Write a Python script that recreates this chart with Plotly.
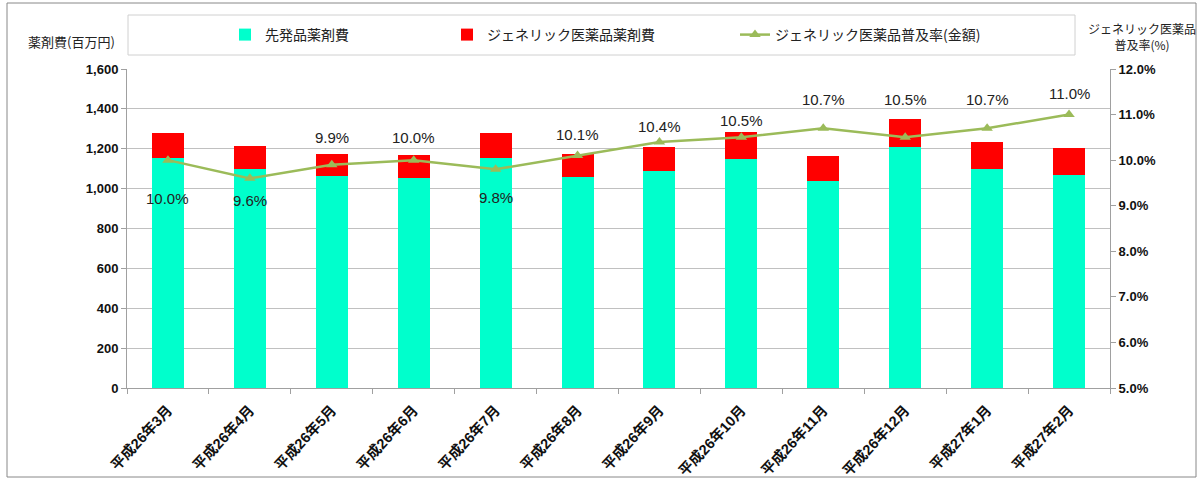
import plotly.graph_objects as go

# ---- data ----
months = ["平成26年3月", "平成26年4月", "平成26年5月", "平成26年6月", "平成26年7月", "平成26年8月",
          "平成26年9月", "平成26年10月", "平成26年11月", "平成26年12月", "平成27年1月", "平成27年2月"]
brand_cost = [1152, 1100, 1062, 1055, 1152, 1057, 1086, 1150, 1036, 1208, 1100, 1070]
generic_cost = [128, 116, 114, 115, 128, 115, 125, 136, 126, 143, 132, 132]
generic_rate = [10.0, 9.6, 9.9, 10.0, 9.8, 10.1, 10.4, 10.5, 10.7, 10.5, 10.7, 11.0]

# label offsets (px) as placed in the original chart
label_shift = [-38, -22, 27, 23, -28, 21, 15, 17, 29, 38, 29, 21]

TEAL = "#00FFCC"
RED = "#FF0000"
OLIVE = "#9BBB59"
NUM_FONT = "Arial, 'Liberation Sans', 'Noto Sans CJK JP', sans-serif"
JP_FONT = "'Noto Sans CJK JP', sans-serif"

W, H = 1199, 482
L, R, T, B = 127, 89, 69, 94
pw, ph = W - L - R, H - T - B


def px_x(x):
    return (x - L) / pw


def px_y(y):
    return (H - B - y) / ph


fig = go.Figure()

fig.add_trace(go.Bar(
    x=months, y=brand_cost, name="先発品薬剤費",
    marker=dict(color=TEAL, line=dict(width=0)),
    legend="legend", showlegend=True,
))
fig.add_trace(go.Bar(
    x=months, y=generic_cost, name="ジェネリック医薬品薬剤費",
    marker=dict(color=RED, line=dict(width=0)),
    legend="legend2", showlegend=True,
))
fig.add_trace(go.Scatter(
    x=months, y=generic_rate, name="ジェネリック医薬品普及率(金額)",
    mode="lines+markers", yaxis="y2",
    line=dict(color=OLIVE, width=2.5),
    marker=dict(symbol="triangle-up", size=10, color=OLIVE),
    legend="legend3", showlegend=True,
))

# data labels for the rate line
for m, v, s in zip(months, generic_rate, label_shift):
    fig.add_annotation(
        x=m, y=v, yref="y2", text=f"{v:.1f}%", showarrow=False,
        yshift=s, font=dict(family=NUM_FONT, size=15, color="#222222"),
    )

# axis titles
fig.add_annotation(
    x=px_x(71), y=px_y(41), xref="paper", yref="paper", text="薬剤費(百万円)",
    xanchor="center", yanchor="middle",
    showarrow=False, font=dict(family=JP_FONT, size=13, color="#222222"),
)
fig.add_annotation(
    x=px_x(1142), y=px_y(36), xref="paper", yref="paper",
    text="ジェネリック医薬品<br>普及率(%)", showarrow=False, align="center",
    xanchor="center", yanchor="middle",
    font=dict(family=JP_FONT, size=12, color="#222222"),
)

# legend box and outer chart border
fig.add_shape(type="rect", xref="paper", yref="paper",
              x0=px_x(128), x1=px_x(1075), y0=px_y(55), y1=px_y(15),
              line=dict(color="#d0d0d0", width=1), fillcolor="white", layer="below")
fig.add_shape(type="rect", xref="paper", yref="paper",
              x0=px_x(7), x1=px_x(1196), y0=px_y(477), y1=px_y(3),
              line=dict(color="#888888", width=1), layer="below")

legend_common = dict(orientation="h", yanchor="middle", y=px_y(35), xanchor="left",
                     bgcolor="rgba(0,0,0,0)", borderwidth=0,
                     font=dict(family=JP_FONT, size=14, color="#222222"))

fig.update_layout(
    width=W, height=H,
    margin=dict(l=L, r=R, t=T, b=B, autoexpand=False),
    paper_bgcolor="white", plot_bgcolor="white",
    showlegend=True,
    barmode="stack", bargap=0.61,
    legend=dict(x=px_x(225), **legend_common),
    legend2=dict(x=px_x(447), **legend_common),
    legend3=dict(x=px_x(735), **legend_common),
    xaxis=dict(
        type="category", range=[-0.5, len(months) - 0.5],
        tickangle=-47, tickson="boundaries", automargin=False,
        ticks="outside", ticklen=5, tickcolor="#a0a0a0",
        showline=True, linecolor="#a0a0a0", linewidth=1,
        ticklabelstandoff=7, ticklabelshift=0,
        tickfont=dict(family=NUM_FONT, size=14.5, color="#111111", weight="bold"),
    ),
    yaxis=dict(
        range=[0, 1600], dtick=200, tickformat=",", automargin=False,
        ticks="outside", ticklen=5, tickcolor="#a0a0a0",
        showline=True, linecolor="#a0a0a0", linewidth=1,
        showgrid=True, gridcolor="#c0c0c0", gridwidth=1, zeroline=False,
        tickfont=dict(family=NUM_FONT, size=13, color="#111111", weight="bold"),
    ),
    yaxis2=dict(
        overlaying="y", side="right", range=[5, 12], dtick=1, automargin=False,
        tickformat=".1f", ticksuffix="%",
        ticks="outside", ticklen=5, tickcolor="#a0a0a0",
        showline=True, linecolor="#a0a0a0", linewidth=1,
        showgrid=False, zeroline=False,
        tickfont=dict(family=NUM_FONT, size=13, color="#111111", weight="bold"),
    ),
)

fig.write_html("out.html", config={"displayModeBar": False},
               post_script="document.body.style.margin='0';")
